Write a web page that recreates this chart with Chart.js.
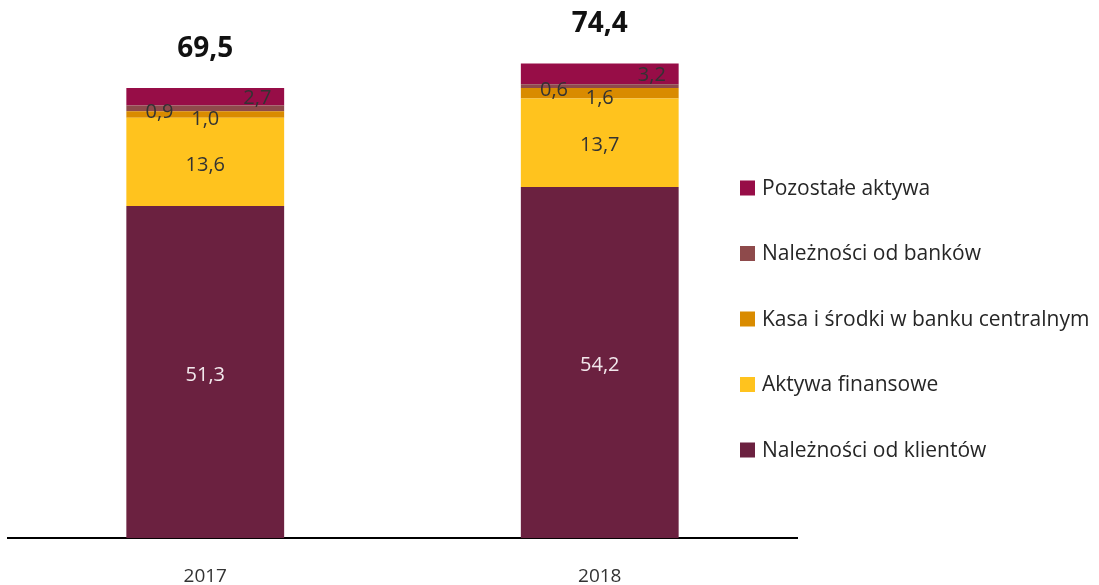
<!DOCTYPE html>
<html>
<head>
<meta charset="utf-8">
<script src="https://cdn.jsdelivr.net/npm/chart.js@4"></script>
<style>
  html, body { margin: 0; padding: 0; background: #fff; }
  #wrap { width: 1099px; height: 585px; position: relative; }
</style>
</head>
<body>
<div id="wrap"><canvas id="myChart"></canvas></div>
<script>
var categories = ["2017", "2018"];
var klienci = [51.3, 54.2];
var aktywaFin = [13.6, 13.7];
var kasa = [1.0, 1.6];
var banki = [0.9, 0.6];
var pozostale = [2.7, 3.2];
var totals = [69.5, 74.4];

var FONT = "'Open Sans', 'Noto Sans', sans-serif";

function fmt(v) {
  return v.toFixed(1).replace(".", ",");
}

// label placement per series (dx as share of bar width, dy in px)
var labelStyle = [
  { color: "#f2e8ec", dx: 0, dy: 3 },
  { color: "#333333", dx: 0, dy: 3 },
  { color: "#333333", dx: 0, dy: 5 },
  { color: "#333333", dx: -0.29, dy: 4 },
  { color: "#333333", dx: 0.33, dy: 2 }
];

var labelsPlugin = {
  id: "labels",
  afterDatasetsDraw: function(chart) {
    var ctx = chart.ctx;
    ctx.save();
    ctx.textAlign = "center";
    ctx.textBaseline = "middle";
    ctx.font = "20px " + FONT;
    chart.data.datasets.forEach(function(ds, i) {
      var meta = chart.getDatasetMeta(i);
      var st = labelStyle[i];
      meta.data.forEach(function(bar, j) {
        var cy = (bar.y + bar.base) / 2;
        ctx.fillStyle = st.color;
        ctx.fillText(fmt(ds.data[j]), bar.x + st.dx * bar.width, cy + st.dy);
      });
    });
    // totals above bars
    var top = chart.getDatasetMeta(chart.data.datasets.length - 1);
    ctx.font = "bold 28px " + FONT;
    ctx.fillStyle = "#111";
    top.data.forEach(function(bar, j) {
      ctx.fillText(fmt(totals[j]), bar.x, bar.y - 39);
    });

    // legend, reversed order
    ctx.font = "21px " + FONT;
    ctx.textAlign = "left";
    var n = chart.data.datasets.length;
    for (var k = 0; k < n; k++) {
      var ds = chart.data.datasets[n - 1 - k];
      var y = 188 + k * 65.5;
      ctx.fillStyle = ds.backgroundColor;
      ctx.fillRect(740, y - 7.5, 15, 15);
      ctx.fillStyle = "#262626";
      ctx.fillText(ds.label, 762, y + 1);
    }
    ctx.restore();
  }
};

var ctx = document.getElementById("myChart").getContext("2d");
var myChart = new Chart(ctx, {
  type: "bar",
  data: {
    labels: categories,
    datasets: [
      { label: "Należności od klientów", data: klienci, backgroundColor: "#6b2140" },
      { label: "Aktywa finansowe", data: aktywaFin, backgroundColor: "#ffc31e" },
      { label: "Kasa i środki w banku centralnym", data: kasa, backgroundColor: "#d98b00" },
      { label: "Należności od banków", data: banki, backgroundColor: "#8e4a4b" },
      { label: "Pozostałe aktywa", data: pozostale, backgroundColor: "#970d47" }
    ]
  },
  options: {
    responsive: true,
    maintainAspectRatio: false,
    animation: false,
    layout: { padding: { left: 8, right: 302, top: 20, bottom: -30 } },
    datasets: { bar: { categoryPercentage: 1, barPercentage: 0.4 } },
    plugins: { legend: { display: false }, tooltip: { enabled: false } },
    scales: {
      x: {
        stacked: true,
        grid: { display: false, drawTicks: false },
        border: { color: "#000", width: 2 },
        ticks: { color: "#333", padding: 27, font: { family: FONT, size: 19 } }
      },
      y: {
        stacked: true,
        display: false,
        min: 0,
        max: 80
      }
    }
  },
  plugins: [labelsPlugin]
});
</script>
</body>
</html>
